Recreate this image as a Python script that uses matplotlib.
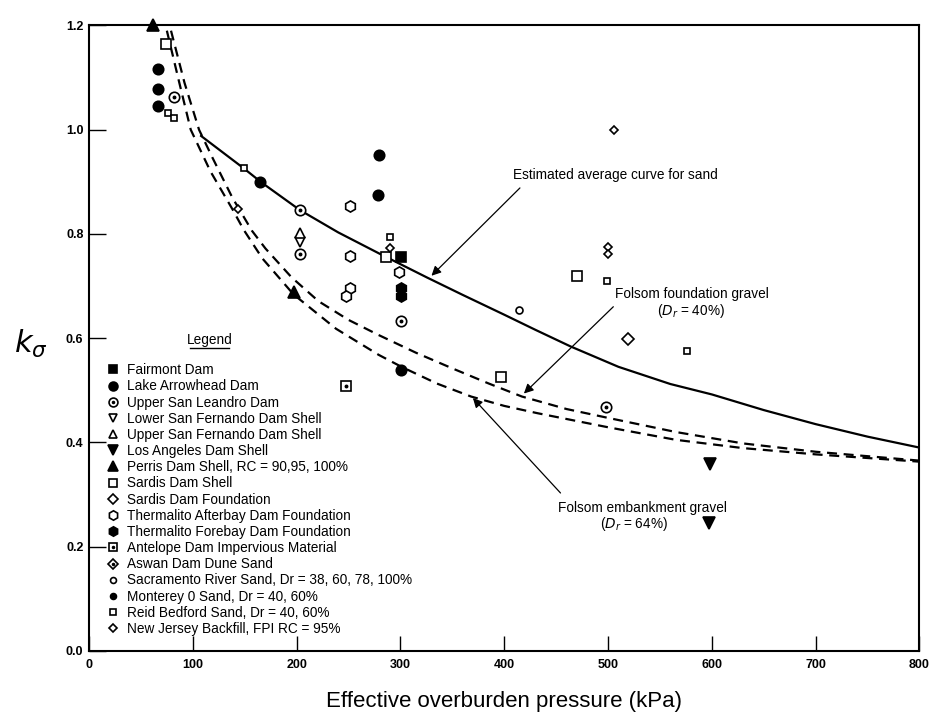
import numpy as np
import matplotlib
matplotlib.use("Agg")
import matplotlib.pyplot as plt
from matplotlib.legend_handler import HandlerTuple

plt.rcParams['font.family'] = ['Liberation Sans', 'DejaVu Sans']

# --- data (kPa, K_sigma) ---
fairmont_x = [301]
fairmont_y = [0.756]
arrowhead_x = [66, 66, 66, 165, 279, 278, 301]
arrowhead_y = [1.116, 1.078, 1.045, 0.900, 0.951, 0.875, 0.539]
leandro_x = [82, 203, 203, 301, 498]
leandro_y = [1.062, 0.846, 0.762, 0.632, 0.468]
lower_sf_x = [203]
lower_sf_y = [0.785]
upper_sf_x = [203]
upper_sf_y = [0.802]
los_angeles_x = [598, 597]
los_angeles_y = [0.358, 0.246]
perris_x = [62, 197]
perris_y = [1.200, 0.688]
sardis_shell_x = [74, 286, 470, 397]
sardis_shell_y = [1.164, 0.755, 0.720, 0.526]
sardis_found_x = [519]
sardis_found_y = [0.598]
afterbay_x = [251, 251, 251, 248, 299]
afterbay_y = [0.854, 0.758, 0.697, 0.681, 0.727]
forebay_x = [301, 301]
forebay_y = [0.697, 0.680]
antelope_x = [248]
antelope_y = [0.509]
aswan_x = []
aswan_y = []
sacramento_x = [414]
sacramento_y = [0.654]
monterey_x = []
monterey_y = []
reid_x = [76, 82, 149, 290, 499, 576]
reid_y = [1.032, 1.022, 0.927, 0.795, 0.710, 0.576]
jersey_x = [144, 290, 506, 500, 500]
jersey_y = [0.848, 0.773, 1.000, 0.775, 0.761]

# curves
sand_x = [108, 149, 166, 203, 240, 279, 326, 360, 400, 430, 464, 510, 560, 600, 650, 700, 750, 800]
sand_y = [0.988, 0.926, 0.899, 0.846, 0.803, 0.763, 0.716, 0.683, 0.645, 0.616, 0.584,
          0.545, 0.512, 0.492, 0.462, 0.435, 0.411, 0.390]
found_x = [79, 92, 106, 119, 138, 157, 170, 195, 221, 250, 279, 315, 350, 385, 417,
           460, 500, 565, 630, 700, 800]
found_y = [1.19, 1.09, 1.00, 0.946, 0.870, 0.806, 0.772, 0.717, 0.671, 0.635, 0.606,
           0.572, 0.542, 0.513, 0.488, 0.464, 0.447, 0.420, 0.398, 0.382, 0.365]
emb_x = [75, 87, 98, 117, 138, 149, 167, 197, 238, 279, 301, 335, 368, 400, 432, 500,
         565, 630, 700, 800]
emb_y = [1.19, 1.09, 1.00, 0.920, 0.848, 0.808, 0.753, 0.684, 0.618, 0.568, 0.545,
         0.513, 0.488, 0.470, 0.456, 0.429, 0.405, 0.389, 0.377, 0.363]

x_ticks = [0, 100, 200, 300, 400, 500, 600, 700, 800]
y_ticks = [0.0, 0.2, 0.4, 0.6, 0.8, 1.0, 1.2]

fig = plt.figure(figsize=(9.3, 7.28), dpi=100)
ax = fig.add_axes([0.0957, 0.106, 0.893, 0.859])

# curves
ax.plot(sand_x, sand_y, color='black', lw=1.6, solid_joinstyle='round')
ax.plot(found_x, found_y, color='black', lw=1.6, dashes=(4.5, 3))
ax.plot(emb_x, emb_y, color='black', lw=1.6, dashes=(4.5, 3))

BIG = 7.5
SMALL = 5


def pts(x, y, marker, size, filled, dot=False):
    fc = 'black' if filled else 'white'
    h, = ax.plot(x, y, ls='none', marker=marker, ms=size, mfc=fc, mec='black',
                 mew=1.2, clip_on=False, zorder=3)
    if dot:
        d, = ax.plot(x, y, ls='none', marker='o', ms=1.8, mfc='black',
                     mec='black', clip_on=False, zorder=4)
        return (h, d)
    return h


handles = [
    pts(fairmont_x, fairmont_y, 's', BIG - 0.5, True),
    pts(arrowhead_x, arrowhead_y, 'o', BIG, True),
    pts(leandro_x, leandro_y, 'o', BIG, False, dot=True),
    pts(lower_sf_x, lower_sf_y, 'v', BIG, False),
    pts(upper_sf_x, upper_sf_y, '^', BIG, False),
    pts(los_angeles_x, los_angeles_y, 'v', BIG + 1, True),
    pts(perris_x, perris_y, '^', BIG + 1, True),
    pts(sardis_shell_x, sardis_shell_y, 's', BIG - 0.5, False),
    pts(sardis_found_x, sardis_found_y, 'D', BIG - 1, False),
    pts(afterbay_x, afterbay_y, 'h', BIG + 0.5, False),
    pts(forebay_x, forebay_y, 'h', BIG + 0.5, True),
    pts(antelope_x, antelope_y, 's', BIG - 1, False, dot=True),
    pts(aswan_x, aswan_y, 'D', BIG - 1, False, dot=True),
    pts(sacramento_x, sacramento_y, 'o', SMALL, False),
    pts(monterey_x, monterey_y, 'o', SMALL, True),
    pts(reid_x, reid_y, 's', SMALL, False),
    pts(jersey_x, jersey_y, 'D', SMALL - 0.5, False),
]
labels = [
    'Fairmont Dam',
    'Lake Arrowhead Dam',
    'Upper San Leandro Dam',
    'Lower San Fernando Dam Shell',
    'Upper San Fernando Dam Shell',
    'Los Angeles Dam Shell',
    'Perris Dam Shell, RC = 90,95, 100%',
    'Sardis Dam Shell',
    'Sardis Dam Foundation',
    'Thermalito Afterbay Dam Foundation',
    'Thermalito Forebay Dam Foundation',
    'Antelope Dam Impervious Material',
    'Aswan Dam Dune Sand',
    'Sacramento River Sand, Dr = 38, 60, 78, 100%',
    'Monterey 0 Sand, Dr = 40, 60%',
    'Reid Bedford Sand, Dr = 40, 60%',
    'New Jersey Backfill, FPI RC = 95%',
]
leg = ax.legend(handles, labels, loc='upper left', bbox_to_anchor=(0.021, 0.46),
                frameon=False, fontsize=9.8, borderpad=0, borderaxespad=0,
                handlelength=0.95, handletextpad=0.55, labelspacing=0.16,
                markerscale=0.85, handler_map={tuple: HandlerTuple(ndivide=1)})

ax.text(116, 0.597, 'Legend', ha='center', va='center', fontsize=9.8)
ax.plot([97, 135], [0.581, 0.581], color='black', lw=1.0)

# annotations
arrow = dict(arrowstyle='-|>', color='black', lw=0.9, mutation_scale=14)
ax.annotate('', xy=(328, 0.716), xytext=(417, 0.892), arrowprops=arrow)
ax.text(408, 0.914, 'Estimated average curve for sand', ha='left', va='center', fontsize=9.8)
ax.annotate('', xy=(417, 0.490), xytext=(507, 0.664), arrowprops=arrow)
ax.text(581, 0.685, 'Folsom foundation gravel', ha='center', va='center', fontsize=9.8)
ax.text(580, 0.653, '($D_r$ = 40%)', ha='center', va='center', fontsize=9.8)
ax.annotate('', xy=(368, 0.489), xytext=(456, 0.299), arrowprops=arrow)
ax.text(533, 0.275, 'Folsom embankment gravel', ha='center', va='center', fontsize=9.8)
ax.text(525, 0.244, '($D_r$ = 64%)', ha='center', va='center', fontsize=9.8)

ax.set_xlim(0, 800)
ax.set_ylim(0, 1.2)
ax.set_xticks(x_ticks)
ax.set_yticks(y_ticks)
ax.set_xticklabels([str(v) for v in x_ticks], fontsize=9, fontweight='bold')
ax.set_yticklabels(['%.1f' % v for v in y_ticks], fontsize=9, fontweight='bold')
ax.tick_params(axis='x', direction='in', length=11, width=1.0, pad=6)
ax.tick_params(axis='y', direction='in', length=12, width=1.0, pad=4)
for s in ax.spines.values():
    s.set_linewidth(1.5)

ax.set_xlabel('Effective overburden pressure (kPa)', fontsize=16, labelpad=14)
ax.set_ylabel(r'$k_\sigma$', fontsize=22, rotation=0, va='center')
ax.yaxis.set_label_coords(-0.07, 0.49)

fig.savefig('out.png', dpi=100)
